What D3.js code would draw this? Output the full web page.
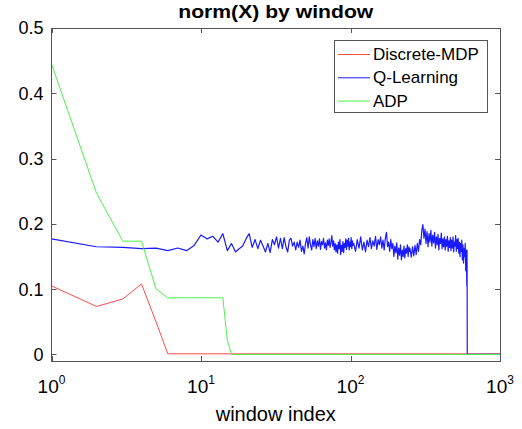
<!DOCTYPE html>
<html>
<head>
<meta charset="utf-8">
<script src="https://cdn.jsdelivr.net/npm/d3@7/dist/d3.min.js"></script>
<style>
  body { margin: 0; background: #fff; }
  text { font-family: Arial, "Liberation Sans", sans-serif; fill: #000; }
</style>
</head>
<body>
<div id="chart"></div>
<script>
// series names / colours (legend order)
var seriesNames = ["Discrete-MDP", "Q-Learning", "ADP"];
var seriesColors = ["#ff4a4a", "#1a1aff", "#4cf04c"];

// Discrete-MDP
var mdpX = [1, 2, 3, 4, 5, 6, 1000];
var mdpY = [0.105, 0.0735, 0.085, 0.108, 0.05, 0.001, 0.001];

// ADP
var adpX = [1, 2, 3, 4, 5, 6, 7, 8, 9, 10, 11, 12, 13, 14, 15, 16, 1000];
var adpY = [0.445, 0.247, 0.1735, 0.1735, 0.1006, 0.0868, 0.0868, 0.0868, 0.0868, 0.0868,
            0.0868, 0.0868, 0.0868, 0.0868, 0.0214, 0, 0];

// Q-Learning
var qlX = [1, 2, 3, 4, 5, 6, 7, 8, 9, 10, 11, 12, 13, 14, 15, 16, 17, 18, 19, 20,
  21, 22, 23, 24, 25, 26, 27, 28, 29, 30, 31, 32, 33, 34, 35, 36, 37, 38, 39, 40,
  41, 42, 43, 44, 45, 46, 47, 48, 49, 50, 51, 52, 53, 54, 55, 56, 57, 58, 59, 60,
  61, 62, 63, 64, 65, 66, 67, 68, 69, 70, 71, 72, 73, 74, 75, 76, 77, 78, 79, 80,
  81, 82, 83, 84, 85, 86, 87, 88, 89, 90, 91, 92, 93, 94, 95, 96, 97, 98, 99, 100,
  101, 102, 103, 104,
  105, 108, 111, 114, 117, 120, 123, 126, 129, 132, 135, 138, 141, 144, 147, 150,
  153, 156, 159, 162, 165, 168, 171, 174, 177, 180, 183, 186, 189, 192, 195, 198,
  201, 204, 207, 210, 213, 216, 219, 222, 225, 228, 231, 234, 237, 240, 243, 246, 249,
  250, 255, 260, 265, 270, 275, 280, 285, 290, 295, 300, 305, 310, 315, 320, 325,
  330, 335, 340, 345, 350, 355, 360, 365, 370, 375, 380, 385, 390, 395, 400, 405,
  410, 415, 420, 425, 430, 435, 440, 445, 450, 455, 460, 465, 470, 475, 480, 485,
  490, 495, 500, 505, 510, 515, 520, 525, 530, 535, 540, 545, 550, 555, 560, 565,
  570, 575, 580, 585, 590, 595, 600,
  602, 603, 604, 1000];
var qlY = [0.177, 0.165, 0.164, 0.162, 0.163, 0.159, 0.163, 0.159, 0.167, 0.183,
  0.177, 0.181, 0.172, 0.185, 0.159, 0.170, 0.157, 0.162, 0.166, 0.177,
  0.185, 0.164, 0.176, 0.162, 0.175, 0.166, 0.157, 0.170, 0.156, 0.176,
  0.168, 0.180, 0.163, 0.178, 0.162, 0.179, 0.165, 0.157, 0.175, 0.178,
  0.166, 0.172, 0.160, 0.172, 0.164, 0.175, 0.158, 0.166, 0.154, 0.170,
  0.179, 0.163, 0.180, 0.168, 0.160, 0.176, 0.165, 0.178, 0.162, 0.174,
  0.166, 0.177, 0.161, 0.173, 0.168, 0.178, 0.163, 0.171, 0.160, 0.175,
  0.167, 0.177, 0.164, 0.172, 0.182, 0.166, 0.174, 0.160, 0.170, 0.157,
  0.168, 0.155, 0.172, 0.162, 0.176, 0.153, 0.167, 0.158, 0.173, 0.156,
  0.170, 0.164, 0.177, 0.161, 0.175, 0.166, 0.178, 0.160, 0.172, 0.165,
  0.179, 0.162, 0.174, 0.167,
  0.170, 0.158, 0.176, 0.163, 0.180, 0.160, 0.172, 0.157, 0.175, 0.165,
  0.179, 0.162, 0.174, 0.166, 0.181, 0.161, 0.176, 0.168, 0.180, 0.163,
  0.175, 0.160, 0.178, 0.187, 0.165, 0.172, 0.158, 0.176, 0.162, 0.170,
  0.150, 0.166, 0.156, 0.171, 0.146, 0.163, 0.152, 0.168, 0.145, 0.160,
  0.150, 0.166, 0.148, 0.162, 0.155, 0.168, 0.150, 0.165, 0.158,
  0.162, 0.149, 0.165, 0.151, 0.167, 0.153, 0.170, 0.158, 0.176, 0.168,
  0.190, 0.199, 0.178, 0.192, 0.170, 0.188, 0.165, 0.185, 0.172, 0.190,
  0.166, 0.183, 0.171, 0.187, 0.163, 0.180, 0.168, 0.184, 0.160, 0.178,
  0.170, 0.186, 0.162, 0.177, 0.165, 0.180, 0.160, 0.176, 0.166, 0.181,
  0.158, 0.174, 0.164, 0.179, 0.159, 0.175, 0.163, 0.180, 0.157, 0.172,
  0.166, 0.182, 0.158, 0.176, 0.162, 0.178, 0.155, 0.172, 0.150, 0.170,
  0.158, 0.175, 0.145, 0.168, 0.140, 0.162, 0.150, 0.170, 0.128, 0.160,
  0.105,
  0.160, 0.090, 0, 0];

// axis ticks
var xTicks = [1, 10, 100, 1000];
var xTickExp = ["0", "1", "2", "3"];
var yTicks = [0, 0.1, 0.2, 0.3, 0.4, 0.5];
var yTickLabels = ["0", "0.1", "0.2", "0.3", "0.4", "0.5"];

(function () {
  var width = 522, height = 429;
  var pl = 51.5, pr = 500, pt = 28, pb = 361;

  var svg = d3.select("#chart").append("svg")
    .attr("width", width)
    .attr("height", height);

  var x = d3.scaleLog().domain([1, 1000]).range([pl, pr]);
  var y = d3.scaleLinear().domain([-0.01, 0.5]).range([pb, pt]);

  svg.append("defs").append("clipPath").attr("id", "plotclip")
    .append("rect")
    .attr("x", pl).attr("y", pt)
    .attr("width", pr - pl).attr("height", pb - pt);

  var axisColor = "#555";
  var tickLen = 5;

  // ticks, inward on all four sides
  var ticks = svg.append("g").attr("stroke", axisColor).attr("stroke-width", 1);
  var px = function (d) { return Math.round(x(d)) + 0.5; };
  var py = function (d) { return Math.round(y(d)) + 0.5; };
  ticks.selectAll(".xb").data(xTicks).enter().append("line")
    .attr("x1", px).attr("x2", px)
    .attr("y1", pb).attr("y2", pb - tickLen);
  ticks.selectAll(".xt").data(xTicks).enter().append("line")
    .attr("x1", px).attr("x2", px)
    .attr("y1", pt).attr("y2", pt + tickLen);
  ticks.selectAll(".yl").data(yTicks).enter().append("line")
    .attr("y1", py).attr("y2", py)
    .attr("x1", pl).attr("x2", pl + tickLen);
  ticks.selectAll(".yr").data(yTicks).enter().append("line")
    .attr("y1", py).attr("y2", py)
    .attr("x1", pr).attr("x2", pr - tickLen);

  // data lines
  var line = d3.line()
    .x(function (d) { return x(d[0]); })
    .y(function (d) { return y(d[1]); });

  var series = [
    d3.zip(mdpX, mdpY),
    d3.zip(qlX, qlY),
    d3.zip(adpX, adpY)
  ];

  svg.append("g").attr("clip-path", "url(#plotclip)")
    .selectAll("path").data(series).enter().append("path")
    .attr("d", line)
    .attr("fill", "none")
    .attr("stroke", function (d, i) { return seriesColors[i]; })
    .attr("stroke-width", function (d, i) { return i == 1 ? 1.2 : 1; })
    .attr("stroke-linejoin", "round");

  // box outline on top
  svg.append("rect")
    .attr("x", Math.floor(pl) + 0.5).attr("y", pt + 0.5)
    .attr("width", Math.round(pr - pl)).attr("height", pb - pt)
    .attr("fill", "none")
    .attr("stroke", axisColor);

  // y tick labels
  svg.selectAll(".ylab").data(yTicks).enter().append("text")
    .attr("x", pl - 8)
    .attr("y", function (d) { return y(d); })
    .attr("dy", "0.36em")
    .attr("text-anchor", "end")
    .attr("font-size", 18)
    .text(function (d, i) { return yTickLabels[i]; });

  // x tick labels 10^n
  var xl = svg.selectAll(".xlab").data(xTicks).enter().append("text")
    .attr("x", function (d) { return x(d); })
    .attr("y", 393)
    .attr("text-anchor", "middle")
    .attr("font-size", 19);
  xl.append("tspan").text("10");
  xl.append("tspan")
    .attr("font-size", 12)
    .attr("dy", -9)
    .text(function (d, i) { return xTickExp[i]; });

  // x axis label
  svg.append("text")
    .attr("x", (pl + pr) / 2)
    .attr("y", 421)
    .attr("text-anchor", "middle")
    .attr("font-size", 20)
    .text("window index");

  // title
  svg.append("text")
    .attr("x", (pl + pr) / 2)
    .attr("y", 18)
    .attr("text-anchor", "middle")
    .attr("font-size", 18)
    .attr("font-weight", "bold")
    .attr("textLength", 195)
    .attr("lengthAdjust", "spacingAndGlyphs")
    .text("norm(X) by window");

  // legend
  var legend = svg.append("g");
  legend.append("rect")
    .attr("x", 334.5).attr("y", 40.5)
    .attr("width", 153).attr("height", 72)
    .attr("fill", "#fff")
    .attr("stroke", axisColor);
  var rows = legend.selectAll(".row").data(seriesNames).enter().append("g")
    .attr("transform", function (d, i) { return "translate(0," + (54 + i * 23.3) + ")"; });
  rows.append("line")
    .attr("x1", 338).attr("x2", 370)
    .attr("y1", 0.5).attr("y2", 0.5)
    .attr("stroke", function (d, i) { return seriesColors[i]; });
  rows.append("text")
    .attr("x", 373)
    .attr("y", 0)
    .attr("dy", "0.36em")
    .attr("font-size", 17)
    .text(function (d) { return d; });
})();
</script>
</body>
</html>
